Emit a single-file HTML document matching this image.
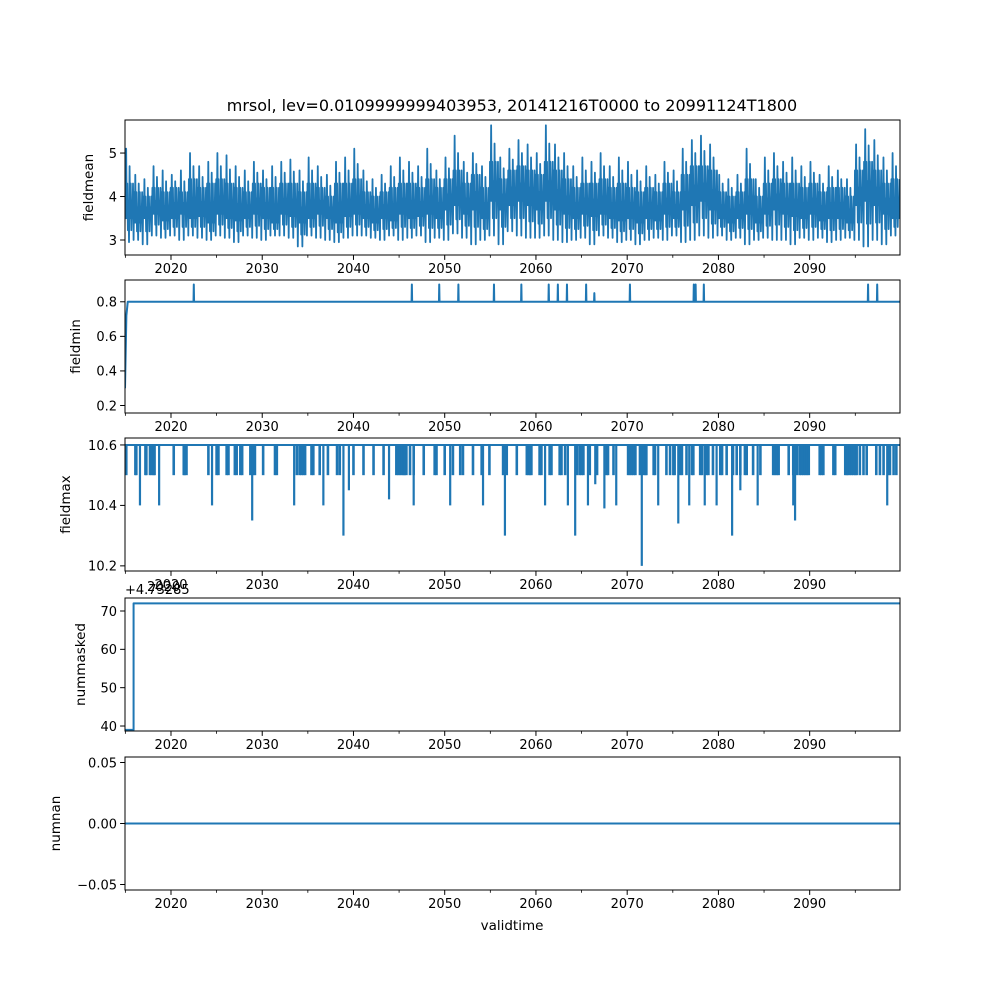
<!DOCTYPE html>
<html><head><meta charset="utf-8"><style>
body{margin:0;background:#fff}
svg{display:block;font-family:"DejaVu Sans","Liberation Sans",sans-serif}
</style></head><body>
<svg id="fig" width="1000" height="1000" viewBox="0 0 1000 1000">
<text x="512" y="111" font-size="16" text-anchor="middle">mrsol, lev=0.0109999999403953, 20141216T0000 to 20991124T1800</text>
<text x="512" y="930" font-size="13.5" text-anchor="middle">validtime</text>
</svg>
<script>
// ---- data ----
const years = [];
for (let y = 2015; y <= 2099; y++) years.push(y);
const meanHi = [5.1,4.5,4.4,4.7,4.6,4.5,4.6,5.0,4.7,4.8,5.0,4.95,4.7,4.6,4.8,4.6,4.7,4.8,4.85,4.6,4.9,4.7,4.5,4.8,4.9,5.1,4.6,4.4,4.5,4.7,4.9,4.8,4.7,5.1,4.6,4.9,5.4,4.8,5.0,4.7,5.64,4.9,5.1,5.3,5.2,5.0,5.64,5.2,5.0,4.7,4.9,4.8,5.0,4.7,4.9,4.8,4.6,4.7,4.5,4.8,4.6,5.1,5.3,5.4,5.2,4.5,4.4,4.5,5.1,4.4,4.9,5.0,4.8,4.9,4.7,4.8,4.5,4.7,4.6,4.4,5.2,5.55,5.3,4.9,5.0];
const meanLo = [2.95,3.0,2.9,3.1,3.05,3.1,3.0,3.1,3.05,3.0,3.1,3.05,2.95,3.1,3.05,3.0,3.1,3.1,3.05,2.85,3.1,3.05,3.0,2.95,3.05,3.1,3.1,3.05,3.0,3.1,3.0,3.05,3.1,2.95,3.05,3.0,3.15,3.05,2.9,3.0,3.1,2.9,3.2,3.1,3.05,3.05,3.1,3.0,2.95,3.0,3.05,2.9,3.1,3.05,2.95,3.0,2.9,3.0,3.05,3.0,3.1,2.95,3.0,3.1,3.05,3.1,3.0,3.05,2.9,3.0,3.05,3.0,3.0,2.9,3.05,3.0,3.05,2.95,3.0,3.05,3.0,2.85,3.0,2.9,3.1];
const meanMid = [3.5,3.4,3.5,3.6,3.45,3.5,3.6,3.5,3.55,3.4,3.6,3.5,3.45,3.5,3.6,3.5,3.4,3.6,3.55,3.4,3.5,3.6,3.5,3.4,3.55,3.6,3.5,3.4,3.5,3.45,3.6,3.5,3.55,3.6,3.5,3.7,3.8,3.6,3.7,3.5,3.9,3.7,3.8,3.9,3.8,3.7,3.9,3.7,3.6,3.5,3.6,3.55,3.6,3.5,3.45,3.5,3.4,3.5,3.45,3.6,3.5,3.7,3.8,3.9,3.7,3.5,3.4,3.5,3.6,3.4,3.6,3.7,3.6,3.55,3.5,3.6,3.45,3.5,3.5,3.4,3.8,3.9,3.8,3.6,3.5];
const meanHi2 = [4.3,4.1,4.0,4.2,4.1,4.2,4.1,4.4,4.2,4.3,4.4,4.3,4.2,4.1,4.3,4.2,4.2,4.3,4.3,4.1,4.3,4.2,4.0,4.3,4.3,4.4,4.1,4.0,4.1,4.2,4.3,4.3,4.2,4.4,4.2,4.4,4.6,4.3,4.5,4.2,4.8,4.4,4.6,4.7,4.6,4.5,4.8,4.6,4.4,4.2,4.3,4.3,4.4,4.2,4.3,4.2,4.1,4.2,4.1,4.3,4.1,4.5,4.7,4.7,4.6,4.1,4.0,4.1,4.4,4.0,4.3,4.4,4.3,4.3,4.2,4.3,4.1,4.2,4.2,4.0,4.6,4.8,4.6,4.3,4.4];
const minStart = [0.3, 0.72, 0.8];
const minSpikeYears = [2022.5,2046.4,2049.4,2051.5,2055.4,2058.4,2061.4,2062.4,2063.4,2065.5,2066.4,2070.3,2077.3,2077.5,2078.4,2096.4,2097.4];
const minSpikeVals  = [0.9,0.9,0.9,0.9,0.9,0.9,0.9,0.9,0.9,0.9,0.85,0.9,0.9,0.9,0.9,0.9,0.9];
const maxBase = 10.6;
const maxShallowYears = [2015.1,2016.1,2016.2,2017.2,2017.3,2017.7,2017.9,2018.1,2018.2,2020.3,2021.4,2021.5,2021.7,2024.1,2025.0,2025.2,2026.1,2026.3,2027.0,2027.2,2027.6,2027.8,2028.7,2029.0,2029.2,2030.1,2031.4,2031.6,2033.8,2034.1,2034.3,2034.5,2034.7,2035.4,2035.6,2036.3,2037.2,2038.2,2038.5,2040.0,2041.1,2042.2,2043.3,2044.7,2044.9,2045.1,2045.3,2045.5,2045.6,2045.8,2046.2,2046.6,2047.7,2048.9,2049.1,2050.0,2050.9,2051.7,2052.0,2053.1,2054.05,2054.9,2056.4,2056.8,2057.9,2059.0,2059.2,2059.35,2059.5,2060.4,2060.6,2061.5,2061.7,2062.6,2062.8,2063.2,2064.5,2064.8,2065.0,2065.2,2065.9,2066.7,2067.75,2067.9,2068.5,2070.1,2070.3,2070.5,2070.7,2070.9,2071.4,2071.6,2071.8,2072.0,2072.1,2072.9,2073.05,2074.3,2074.7,2075.06,2075.2,2075.8,2076.0,2076.5,2077.1,2077.25,2078.0,2078.2,2078.7,2078.9,2079.4,2080.2,2080.4,2080.9,2081.6,2082.0,2082.4,2082.9,2083.1,2083.8,2084.6,2086.0,2086.2,2086.4,2086.6,2087.7,2088.2,2088.6,2088.9,2089.1,2089.3,2089.5,2089.7,2089.9,2091.1,2091.3,2091.5,2092.6,2092.8,2093.9,2094.06,2094.2,2094.4,2094.6,2094.8,2095.0,2095.15,2095.5,2095.9,2096.25,2097.3,2097.7,2098.1,2098.6,2098.8,2099.2,2099.5];
const maxShallowVal = 10.5;
const maxDeepYears = [2016.6,2018.7,2024.5,2028.9,2033.5,2036.7,2038.9,2039.5,2043.9,2046.6,2050.6,2054.2,2056.6,2061.0,2063.5,2064.3,2065.7,2066.5,2067.5,2068.8,2071.6,2073.4,2075.6,2076.8,2078.5,2079.8,2081.5,2082.4,2084.3,2088.2,2088.4,2098.5];
const maxDeepVals  = [10.4,10.4,10.4,10.35,10.4,10.4,10.3,10.45,10.42,10.4,10.4,10.4,10.3,10.4,10.4,10.3,10.4,10.47,10.39,10.4,10.2,10.4,10.34,10.4,10.4,10.4,10.3,10.45,10.4,10.4,10.35,10.4];
const maskedYears = [2014.96, 2015.9, 2015.9, 2099.9];
const maskedVals  = [39, 39, 72, 72];
const nanYears = [2014.96, 2099.9];
const nanVals  = [0, 0];
const xTicks = [2020,2030,2040,2050,2060,2070,2080,2090];
const xMinor = [2015,2025,2035,2045,2055,2065,2075,2085,2095];
const ticks1 = [3,4,5], ticks2 = [0.2,0.4,0.6,0.8], ticks3 = [10.2,10.4,10.6], ticks4 = [40,50,60,70], ticks5 = [-0.05,0,0.05];
const labels3 = ['10.2','10.4','10.6'], labels5 = ['\u22120.05','0.00','0.05'];

// ---- layout ----
const NS = 'http://www.w3.org/2000/svg';
const svg = document.getElementById('fig');
const L = 125, R = 900, X0 = 2014.96, X1 = 2099.9;
const C = '#1f77b4';
const xs = v => L + (v - X0) / (X1 - X0) * (R - L);
function mk(tag, attrs, parent) {
  const e = document.createElementNS(NS, tag);
  for (const k in attrs) e.setAttribute(k, attrs[k]);
  (parent || svg).appendChild(e);
  return e;
}
const panels = [
  {name:'fieldmean', top:120, bot:255, lo:2.655, hi:5.76, ticks:ticks1, labels:ticks1.map(String), lx:93},
  {name:'fieldmin', top:280, bot:413, lo:0.1566, hi:0.926, ticks:ticks2, labels:ticks2.map(v=>v.toFixed(1)), lx:80},
  {name:'fieldmax', top:438, bot:571, lo:10.183, hi:10.623, ticks:ticks3, labels:labels3, lx:70},
  {name:'nummasked', top:598, bot:731, lo:38.70, hi:73.39, ticks:ticks4, labels:ticks4.map(String), lx:85},
  {name:'numnan', top:757, bot:890, lo:-0.0545, hi:0.0545, ticks:ticks5, labels:labels5, lx:60}
];
panels.forEach((p, i) => {
  p.ys = v => p.bot - (v - p.lo) / (p.hi - p.lo) * (p.bot - p.top);
  const g = mk('g', {});
  
  
  p.g = g;
  const cp = mk('clipPath', {id: 'clip' + i}, g);
  mk('rect', {x: L, y: p.top, width: R - L, height: p.bot - p.top}, cp);
  p.plot = mk('g', {'clip-path': 'url(#clip' + i + ')'}, g);
  
  
});
function line(p, pts, w) {
  const d = pts.map((q, k) => (k ? 'L' : 'M') + xs(q[0]).toFixed(2) + ' ' + p.ys(q[1]).toFixed(2)).join('');
  const e = mk('path', {d: d, fill: 'none', stroke: C, 'stroke-width': w || 1.5, 'stroke-linejoin': 'round'}, p.plot);
  
  
  return e;
}
// panel 1: dense oscillation built from the yearly envelope values
{
  const pts = [];
  years.forEach((y, i) => {
    const lo = meanLo[i], hi = meanHi[i], mid = meanMid[i], h2 = meanHi2[i];
    const seq = [lo, h2, mid, hi, mid, h2, (lo + mid) / 2, (mid + h2) / 2, lo, (h2 + hi) / 2, mid, h2, (lo + mid) / 2, (mid + h2) / 2, mid, h2];
    seq.forEach((v, k) => pts.push([y - 0.1 + k / seq.length, v]));
  });
  line(panels[0], pts, 1.8);
}
// panel 2
{
  const p = panels[1];
  const pts = [[X0, minStart[0]], [X0 + 0.15, minStart[1]], [X0 + 0.3, minStart[2]]];
  minSpikeYears.forEach((y, i) => { pts.push([y - 0.03, 0.8], [y, minSpikeVals[i]], [y + 0.03, 0.8]); });
  pts.push([X1, 0.8]);
  line(p, pts, 2);
}
// panel 3
{
  const p = panels[2];
  line(p, [[X0, maxBase], [X1, maxBase]], 2);
  maxShallowYears.forEach(y => {
    const e = mk('line', {x1: xs(y), x2: xs(y), y1: p.ys(maxBase), y2: p.ys(maxShallowVal), stroke: C, 'stroke-width': 2.6}, p.plot);
    
    
  });
  maxDeepYears.forEach((y, i) => {
    const e = mk('line', {x1: xs(y), x2: xs(y), y1: p.ys(maxBase), y2: p.ys(maxDeepVals[i]), stroke: C, 'stroke-width': 2.2}, p.plot);
    
    
  });
}
// panel 4, 5
line(panels[3], maskedYears.map((y, i) => [y, maskedVals[i]]), 2);
line(panels[4], nanYears.map((y, i) => [y, nanVals[i]]), 2);

// axes
panels.forEach(p => {
  const g = p.g;
  const fr = mk('rect', {x: L, y: p.top, width: R - L, height: p.bot - p.top, fill: 'none', stroke: '#000', 'stroke-width': 1}, g);
  
  
  xTicks.forEach(t => {
    const x = xs(t);
    mk('line', {x1: x, x2: x, y1: p.bot, y2: p.bot + 4.9, stroke: '#000', 'stroke-width': 1}, g);
    const tx = mk('text', {x: x, y: p.bot + 18, 'font-size': 13, 'text-anchor': 'middle'}, g);
    tx.textContent = String(t);
    
    
  });
  xMinor.forEach(t => {
    const x = xs(t);
    mk('line', {x1: x, x2: x, y1: p.bot, y2: p.bot + 2.8, stroke: '#000', 'stroke-width': 0.8}, g);
  });
  p.ticks.forEach((t, k) => {
    const y = p.ys(t);
    mk('line', {x1: L - 4.9, x2: L, y1: y, y2: y, stroke: '#000', 'stroke-width': 1}, g);
    const tx = mk('text', {x: L - 8, y: y + 4.8, 'font-size': 13, 'text-anchor': 'end'}, g);
    tx.textContent = p.labels[k];
    
    
  });
  const yc = (p.top + p.bot) / 2;
  const yl = mk('text', {x: p.lx, y: yc, 'font-size': 13.5, 'text-anchor': 'middle', transform: 'rotate(-90 ' + p.lx + ' ' + yc + ')'}, g);
  yl.textContent = p.name;
  
  
});
// offset text on nummasked panel
{
  const t1 = mk('text', {x: 125, y: 594, 'font-size': 13}, svg);
  t1.textContent = '+4.73285';
  
  
  const t2 = mk('text', {x: 147, y: 591, 'font-size': 13}, svg);
  t2.textContent = '2020';
  
  
}
</script>
</body></html>
